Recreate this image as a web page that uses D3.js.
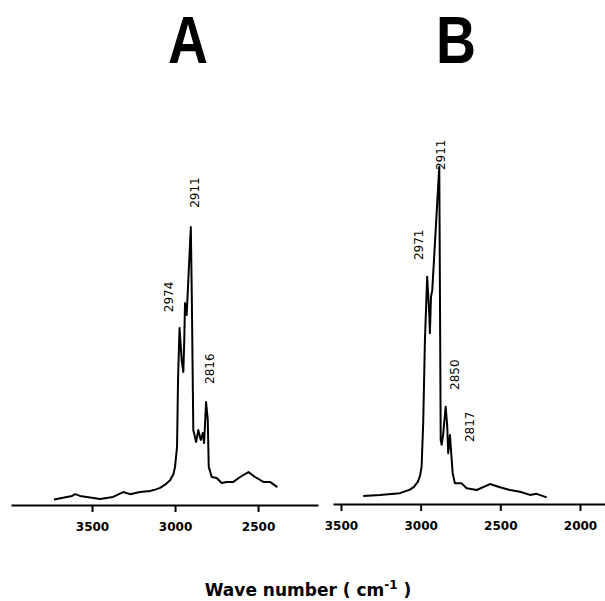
<!DOCTYPE html>
<html>
<head>
<meta charset="utf-8">
<script src="https://cdn.jsdelivr.net/npm/d3@7"></script>
<style>
  body { margin: 0; background: #fff; }
  svg { display: block; }
</style>
</head>
<body>
<svg id="chart" width="605" height="601"></svg>
<script>
// Spectrum A: wave number (cm-1) and relative intensity
const waveA = [3729, 3620, 3602, 3572, 3452, 3373, 3313, 3271, 3211, 3151, 3120, 3090, 3060, 3030,
  3010, 3000, 2988, 2982, 2973, 2960, 2950, 2944, 2940, 2930, 2920, 2905, 2899, 2890,
  2873, 2860, 2845, 2833, 2825, 2813, 2803, 2797, 2779, 2749, 2719, 2689, 2649,
  2608, 2558, 2518, 2468, 2428, 2384];
const intA = [1.6, 2.6, 3.1, 2.6, 1.7, 2.3, 3.7, 3.1, 3.7, 4.0, 4.4, 4.9, 5.8, 7.1,
  8.8, 10.9, 16.6, 35.7, 50.6, 41.4, 38, 48, 57.7, 54.3, 64.3, 79.4, 59.4, 21.4,
  18, 21.4, 18.6, 20.6, 17.7, 29.4, 24.3, 10.9, 8, 7.7, 6.3, 6.6, 6.6,
  8, 9.4, 8, 6.6, 6.6, 5.1];

// Spectrum B
const waveB = [3360, 3255, 3130, 3067, 3042, 3017, 3003, 2994, 2984, 2973, 2959, 2946, 2942,
  2935, 2927, 2883, 2874, 2868, 2858, 2843, 2833, 2827, 2816, 2808, 2799, 2785,
  2743, 2711, 2648, 2565, 2502, 2439, 2377, 2314, 2272, 2209];
const intB = [2.3, 2.6, 3.1, 4.1, 4.9, 6.4, 8.2, 10.7, 23, 46.9, 64.9, 54.5, 48.8,
  59.2, 61.1, 96.4, 18.3, 16.9, 20.2, 27.8, 22.1, 14.5, 19.7, 14.5, 8.8, 5.9,
  5.9, 4.5, 4.0, 5.7, 4.8, 4.0, 3.5, 2.6, 2.9, 1.9];

// Peak annotations: text, wave number and intensity where the label sits
const peakTextA = ["2974", "2911", "2816"];
const peakWaveA = [3036, 2883, 2789];
const peakIntA  = [55.1, 84.9, 34.6];

const peakTextB = ["2971", "2911", "2850", "2817"];
const peakWaveB = [3011, 2873, 2785, 2691];
const peakIntB  = [69.7, 95.4, 32.6, 17.7];

const ticksA = [3500, 3000, 2500];
const ticksB = [3500, 3000, 2500, 2000];

const svg = d3.select("#chart");

function drawPanel(opts) {
  const x = d3.scaleLinear().domain(opts.domain).range(opts.range);
  const y = d3.scaleLinear().domain([0, 100]).range([opts.base, opts.base - 350]);
  const g = svg.append("g");

  // axis along the bottom
  const axis = d3.axisBottom(x)
    .tickValues(opts.ticks)
    .tickSize(7)
    .tickSizeOuter(0)
    .tickPadding(10)
    .tickFormat(d3.format("d"));
  const ax = g.append("g")
    .attr("transform", `translate(0,${opts.base})`)
    .call(axis);
  ax.select(".domain").attr("stroke", "#000").attr("stroke-width", 2);
  ax.selectAll(".tick line").attr("stroke", "#000").attr("stroke-width", 2);
  ax.selectAll(".tick text")
    .attr("fill", "#000")
    .style("font-family", "'DejaVu Sans', sans-serif")
    .style("font-size", "12px")
    .style("font-weight", "bold");

  // the spectrum
  const pts = opts.wave.map((w, i) => [w, opts.val[i]]);
  g.append("path")
    .datum(pts)
    .attr("fill", "none")
    .attr("stroke", "#000")
    .attr("stroke-width", 2)
    .attr("stroke-linejoin", "round")
    .attr("d", d3.line().x(d => x(d[0])).y(d => y(d[1])));

  // peak labels, rotated
  opts.peakText.forEach((t, i) => {
    const px = x(opts.peakWave[i]), py = y(opts.peakInt[i]);
    g.append("text")
      .attr("transform", `translate(${px},${py}) rotate(-90)`)
      .attr("dy", "0.35em")
      .attr("text-anchor", "start")
      .style("font-family", "'DejaVu Sans', sans-serif")
      .style("font-size", "12px")
      .text(t);
  });

  // panel letter
  svg.append("text")
    .attr("x", opts.letterX)
    .attr("y", 63)
    .attr("text-anchor", "middle")
    .attr("textLength", 40)
    .attr("lengthAdjust", "spacingAndGlyphs")
    .style("font-family", "'Liberation Sans', Arial, sans-serif")
    .style("font-size", "66px")
    .style("font-weight", "bold")
    .text(opts.letter);
}

drawPanel({
  domain: [3988, 2139], range: [11, 318], base: 505, ticks: ticksA,
  wave: waveA, val: intA,
  peakText: peakTextA, peakWave: peakWaveA, peakInt: peakIntA,
  letter: "A", letterX: 188
});

drawPanel({
  domain: [3550, 1843], range: [333, 605], base: 504, ticks: ticksB,
  wave: waveB, val: intB,
  peakText: peakTextB, peakWave: peakWaveB, peakInt: peakIntB,
  letter: "B", letterX: 456
});

// shared x-axis title
const title = svg.append("text")
  .attr("x", 308)
  .attr("y", 596)
  .attr("text-anchor", "middle")
  .style("font-family", "'DejaVu Sans', sans-serif")
  .style("font-size", "17px")
  .style("font-weight", "600");
title.append("tspan").text("Wave number ( cm");
title.append("tspan").attr("dy", -7).style("font-size", "12px").text("-1");
title.append("tspan").attr("dy", 7).text(" )");
</script>
</body>
</html>
